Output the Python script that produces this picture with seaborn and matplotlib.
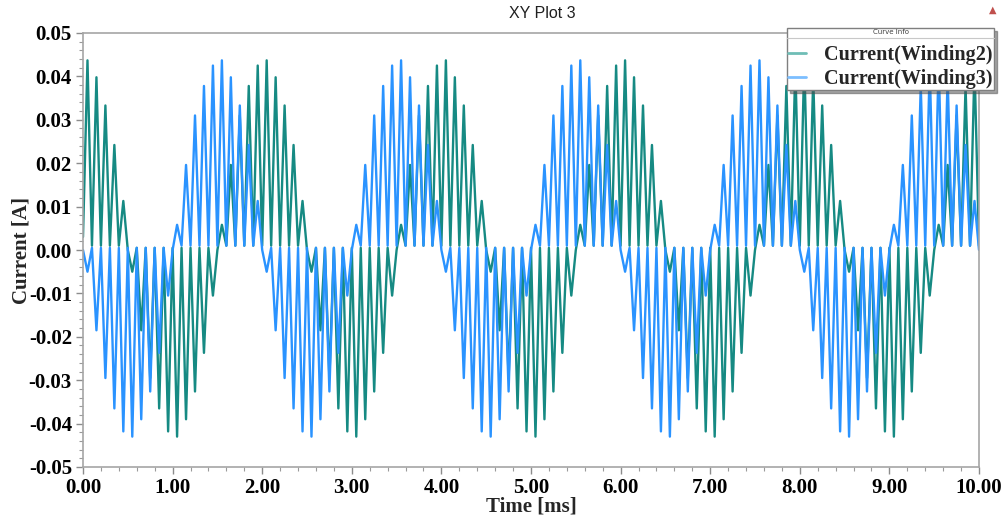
import numpy as np
import pandas as pd
import matplotlib
matplotlib.use("Agg")
import matplotlib.pyplot as plt
import seaborn as sns
from matplotlib.ticker import AutoMinorLocator, FormatStrFormatter
from matplotlib.font_manager import FontProperties
from matplotlib.lines import Line2D

# ---- data: waveform extrema, one sample every 0.05 ms ----
time_ms = np.round(np.arange(201) * 0.05, 2)

winding2_current = [
    # 0-1 ms
    0.003, 0.0437, 0.001, 0.0398, 0.001, 0.0333, 0.001, 0.0242, 0.001, 0.0113,
    0.0, -0.0050, 0.0005, -0.0185, 0.0005, -0.0295, 0.0005, -0.0365, 0.0005, -0.0418,
    # 1-2 ms
    0.0005, -0.0430, 0.0005, -0.0390, 0.0005, -0.0326, 0.0005, -0.0237, 0.0005, -0.0105,
    0.0, 0.0058, 0.001, 0.0196, 0.001, 0.0310, 0.001, 0.0378, 0.001, 0.0425,
    # 2-3 ms
    0.001, 0.0437, 0.001, 0.0398, 0.001, 0.0333, 0.001, 0.0242, 0.001, 0.0113,
    0.0, -0.0050, 0.0005, -0.0185, 0.0005, -0.0295, 0.0005, -0.0365, 0.0005, -0.0418,
    # 3-4 ms
    0.0005, -0.0430, 0.0005, -0.0390, 0.0005, -0.0326, 0.0005, -0.0237, 0.0005, -0.0105,
    0.0, 0.0058, 0.001, 0.0196, 0.001, 0.0310, 0.001, 0.0378, 0.001, 0.0425,
    # 4-5 ms
    0.001, 0.0437, 0.001, 0.0398, 0.001, 0.0333, 0.001, 0.0242, 0.001, 0.0113,
    0.0, -0.0050, 0.0005, -0.0185, 0.0005, -0.0295, 0.0005, -0.0365, 0.0005, -0.0418,
    # 5-6 ms
    0.0005, -0.0430, 0.0005, -0.0390, 0.0005, -0.0326, 0.0005, -0.0237, 0.0005, -0.0105,
    0.0, 0.0058, 0.001, 0.0196, 0.001, 0.0310, 0.001, 0.0378, 0.001, 0.0425,
    # 6-7 ms
    0.001, 0.0437, 0.001, 0.0398, 0.001, 0.0333, 0.001, 0.0242, 0.001, 0.0113,
    0.0, -0.0050, 0.0005, -0.0185, 0.0005, -0.0295, 0.0005, -0.0365, 0.0005, -0.0418,
    # 7-8 ms
    0.0005, -0.0430, 0.0005, -0.0390, 0.0005, -0.0326, 0.0005, -0.0237, 0.0005, -0.0105,
    0.0, 0.0058, 0.001, 0.0196, 0.001, 0.0310, 0.001, 0.0378, 0.001, 0.0425,
    # 8-9 ms
    0.001, 0.0437, 0.001, 0.0398, 0.001, 0.0333, 0.001, 0.0242, 0.001, 0.0113,
    0.0, -0.0050, 0.0005, -0.0185, 0.0005, -0.0295, 0.0005, -0.0365, 0.0005, -0.0418,
    # 9-10 ms
    0.0005, -0.0430, 0.0005, -0.0390, 0.0005, -0.0326, 0.0005, -0.0237, 0.0005, -0.0105,
    0.0, 0.0058, 0.001, 0.0196, 0.001, 0.0310, 0.001, 0.0378, 0.001, 0.0425,
    # 10 ms
    0.001,
]

winding3_current = [
    # 0-1 ms
    0.0, -0.0050, 0.0005, -0.0185, 0.0005, -0.0295, 0.0005, -0.0365, 0.0005, -0.0418,
    0.0005, -0.0430, 0.0005, -0.0390, 0.0005, -0.0326, 0.0005, -0.0237, 0.0005, -0.0105,
    # 1-2 ms
    0.0, 0.0058, 0.001, 0.0196, 0.001, 0.0310, 0.001, 0.0378, 0.001, 0.0425,
    0.001, 0.0437, 0.001, 0.0398, 0.001, 0.0333, 0.001, 0.0242, 0.001, 0.0113,
    # 2-3 ms
    0.0, -0.0050, 0.0005, -0.0185, 0.0005, -0.0295, 0.0005, -0.0365, 0.0005, -0.0418,
    0.0005, -0.0430, 0.0005, -0.0390, 0.0005, -0.0326, 0.0005, -0.0237, 0.0005, -0.0105,
    # 3-4 ms
    0.0, 0.0058, 0.001, 0.0196, 0.001, 0.0310, 0.001, 0.0378, 0.001, 0.0425,
    0.001, 0.0437, 0.001, 0.0398, 0.001, 0.0333, 0.001, 0.0242, 0.001, 0.0113,
    # 4-5 ms
    0.0, -0.0050, 0.0005, -0.0185, 0.0005, -0.0295, 0.0005, -0.0365, 0.0005, -0.0418,
    0.0005, -0.0430, 0.0005, -0.0390, 0.0005, -0.0326, 0.0005, -0.0237, 0.0005, -0.0105,
    # 5-6 ms
    0.0, 0.0058, 0.001, 0.0196, 0.001, 0.0310, 0.001, 0.0378, 0.001, 0.0425,
    0.001, 0.0437, 0.001, 0.0398, 0.001, 0.0333, 0.001, 0.0242, 0.001, 0.0113,
    # 6-7 ms
    0.0, -0.0050, 0.0005, -0.0185, 0.0005, -0.0295, 0.0005, -0.0365, 0.0005, -0.0418,
    0.0005, -0.0430, 0.0005, -0.0390, 0.0005, -0.0326, 0.0005, -0.0237, 0.0005, -0.0105,
    # 7-8 ms
    0.0, 0.0058, 0.001, 0.0196, 0.001, 0.0310, 0.001, 0.0378, 0.001, 0.0425,
    0.001, 0.0437, 0.001, 0.0398, 0.001, 0.0333, 0.001, 0.0242, 0.001, 0.0113,
    # 8-9 ms
    0.0, -0.0050, 0.0005, -0.0185, 0.0005, -0.0295, 0.0005, -0.0365, 0.0005, -0.0418,
    0.0005, -0.0430, 0.0005, -0.0390, 0.0005, -0.0326, 0.0005, -0.0237, 0.0005, -0.0105,
    # 9-10 ms
    0.0, 0.0058, 0.001, 0.0196, 0.001, 0.0310, 0.001, 0.0378, 0.001, 0.0425,
    0.001, 0.0437, 0.001, 0.0398, 0.001, 0.0333, 0.001, 0.0242, 0.001, 0.0113,
    # 10 ms
    0.0,
]

series_names = ["Current(Winding2)", "Current(Winding3)"]
series_colors = ["#168A83", "#2A93FF"]
legend_colors = ["#6FBDB6", "#7CBEFF"]
y_ticks = [-0.05, -0.04, -0.03, -0.02, -0.01, 0.00, 0.01, 0.02, 0.03, 0.04, 0.05]
x_ticks = [0, 1, 2, 3, 4, 5, 6, 7, 8, 9, 10]

df = pd.concat([
    pd.DataFrame({"Time": time_ms, "Current": winding2_current, "Curve": series_names[0]}),
    pd.DataFrame({"Time": time_ms, "Current": winding3_current, "Curve": series_names[1]}),
], ignore_index=True)

sns.set_theme(style="white")
plt.rcParams["font.family"] = ["Liberation Serif", "DejaVu Sans"]

W, H = 1005, 518
fig = plt.figure(figsize=(W / 100, H / 100), dpi=100)
ax = fig.add_axes([83 / W, 1 - 467 / H, (979 - 83) / W, (467 - 33) / H])

sns.lineplot(data=df, x="Time", y="Current", hue="Curve",
             palette=dict(zip(series_names, series_colors)),
             estimator=None, sort=False, linewidth=1.7, ax=ax)
for ln in ax.get_lines():
    ln.set_solid_joinstyle("round")

ax.set_xlim(0, 10)
ax.set_ylim(-0.05, 0.05)
ax.set_xticks(x_ticks)
ax.set_yticks(y_ticks)
ax.xaxis.set_major_formatter(FormatStrFormatter("%.2f"))
ax.yaxis.set_major_formatter(FormatStrFormatter("%.2f"))
ax.xaxis.set_minor_locator(AutoMinorLocator(5))
ax.yaxis.set_minor_locator(AutoMinorLocator(5))

tick_font = FontProperties(family="Liberation Serif", weight="bold", size=15)
legend_font = FontProperties(family="Liberation Serif", weight="bold", size=14.5)
for lab in ax.get_xticklabels() + ax.get_yticklabels():
    lab.set_fontproperties(tick_font)
    lab.set_color("black")

ax.tick_params(axis="both", which="major", direction="out", length=5, width=1,
               color="#8C8C8C", pad=3, bottom=True, left=True)
ax.tick_params(axis="both", which="minor", direction="out", length=3, width=0.8,
               color="#9A9A9A", bottom=True, left=True)

for side in ["left", "bottom", "top", "right"]:
    ax.spines[side].set_visible(True)
    ax.spines[side].set_color("#A6A6A6")
    ax.spines[side].set_linewidth(1.2)

ax.set_xlabel("Time [ms]", fontproperties=tick_font, labelpad=-1)
ax.set_ylabel("Current [A]", fontproperties=tick_font, labelpad=-2)

fig.text(542 / W, 1 - 14 / H, "XY Plot 3", family="Liberation Sans",
         fontsize=11.5, ha="center", va="center", color="#202020")
fig.text(993 / W, 1 - 10 / H, "\u25B2", family="DejaVu Sans", fontsize=7,
         ha="center", va="center", color="#C0504D")

handles, labels = ax.get_legend_handles_labels()
for h, c in zip(handles, legend_colors):
    h.set_linewidth(2)
    h.set_color(c)
leg = ax.legend(handles, labels, title="Curve Info", loc="upper right",
                bbox_to_anchor=(994 / W, 1 - 28 / H), bbox_transform=fig.transFigure,
                prop=legend_font, title_fontproperties=FontProperties(family="DejaVu Sans", size=5),
                frameon=True, fancybox=False, shadow=True, framealpha=1,
                edgecolor="#7F7F7F", borderpad=0.05, labelspacing=0.18,
                handlelength=0.9, handletextpad=0.9, borderaxespad=0)
leg.get_frame().set_linewidth(1.0)
leg.get_title().set_color("#404040")
leg._legend_box.sep = 7.5

fig.canvas.draw()
bb = leg.get_window_extent()
tb = leg.get_title().get_window_extent()
yline = (tb.y0 - 2.5) / H
fig.add_artist(Line2D([bb.x0 / W, bb.x1 / W], [yline, yline],
                      transform=fig.transFigure, color="#C8C8C8", lw=0.8))

fig.savefig("out.png", dpi=100, facecolor="white")
